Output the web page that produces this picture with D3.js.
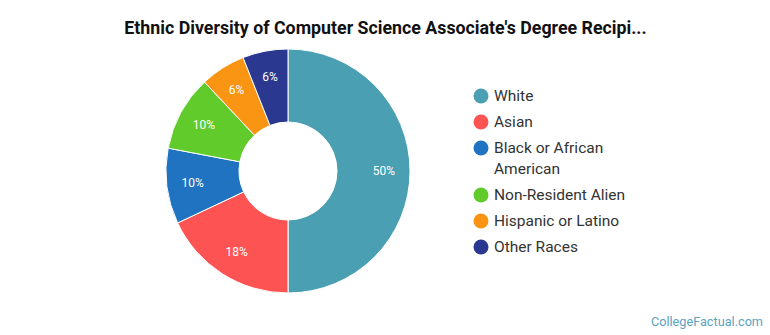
<!DOCTYPE html>
<html><head><meta charset="utf-8">
<script src="https://cdn.jsdelivr.net/npm/d3@7"></script>
<style>
html,body{margin:0;padding:0;background:#fff;}
svg{display:block;font-family:Roboto, "Noto Sans", sans-serif;}
</style></head>
<body>
<svg id="chart" width="770" height="335"></svg>
<script>
const categories = ["White", "Asian", "Black or African American", "Non-Resident Alien", "Hispanic or Latino", "Other Races"];
const legendLines = [["White"], ["Asian"], ["Black or African", "American"], ["Non-Resident Alien"], ["Hispanic or Latino"], ["Other Races"]];
const values = [50, 18, 10, 10, 6, 6];
const labels = ["50%", "18%", "10%", "10%", "6%", "6%"];
const colors = ["#4aa0b2", "#fd5353", "#1f73c0", "#60cb2b", "#fa9514", "#2b3890"];
const title = "Ethnic Diversity of Computer Science Associate's Degree Recipi...";

const svg = d3.select("#chart");

svg.append("text").attr("x", 385.5).attr("y", 34).attr("text-anchor", "middle")
  .attr("font-size", 17.8).attr("font-weight", "bold").attr("fill", "#111").text(title);

const cx = 288, cy = 171, R = 122, r = 49;
const pie = d3.pie().value(d => d).sort(null);
const arcs = pie(values);
const arc = d3.arc().innerRadius(r).outerRadius(R);
const labelArc = d3.arc().innerRadius(96).outerRadius(96);
const color = d3.scaleOrdinal().domain(categories).range(colors);

const g = svg.append("g").attr("transform", `translate(${cx},${cy})`);
g.selectAll("path").data(arcs).join("path")
  .attr("d", arc).attr("fill", (d, i) => color(categories[i]))
  .attr("stroke", "#fff").attr("stroke-width", 1);
g.selectAll("text").data(arcs).join("text")
  .attr("transform", d => `translate(${labelArc.centroid(d)})`)
  .attr("text-anchor", "middle").attr("dy", "0.35em")
  .attr("font-size", 12).attr("fill", "#fff").text((d, i) => labels[i]);

const lg = svg.append("g");
let y = 96;
legendLines.forEach((lines, i) => {
  lg.append("circle").attr("cx", 481).attr("cy", y).attr("r", 7.5).attr("fill", color(categories[i]));
  lines.forEach((t, j) => {
    lg.append("text").attr("x", 494).attr("y", y + j * 21).attr("dy", "0.35em")
      .attr("font-size", 15.5).attr("fill", "#333").text(t);
  });
  y += 26 + (lines.length - 1) * 21;
});

svg.append("text").attr("x", 763).attr("y", 326).attr("text-anchor", "end")
  .attr("font-size", 12.7).attr("fill", "#5aa4c0").text("CollegeFactual.com");
</script>
</body></html>
